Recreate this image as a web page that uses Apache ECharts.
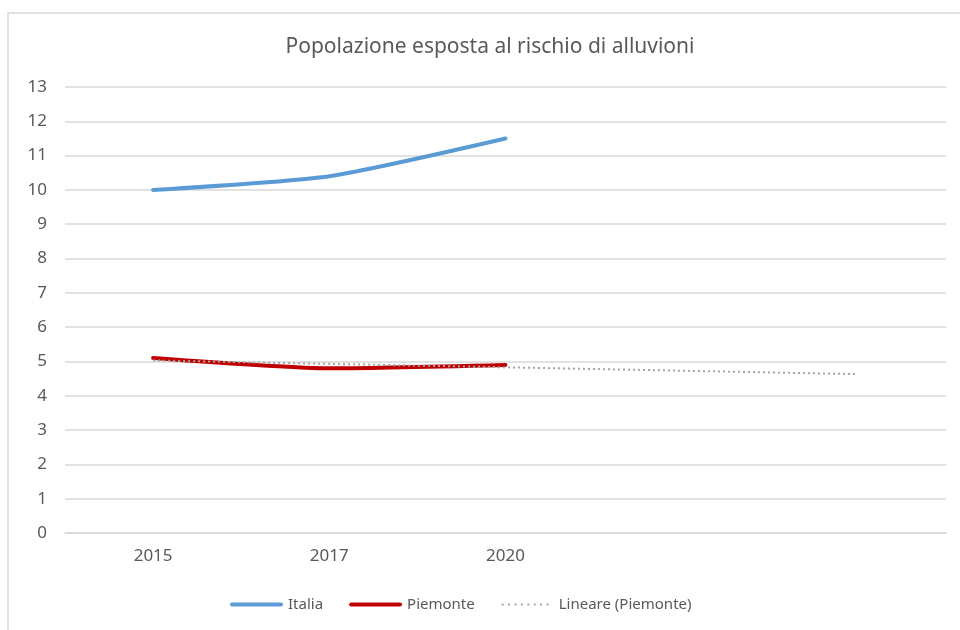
<!DOCTYPE html>
<html>
<head>
<meta charset="utf-8">
<script src="https://cdn.jsdelivr.net/npm/echarts@6/dist/echarts.min.js"></script>
<style>html,body{margin:0;padding:0;background:#fff}#c{width:960px;height:630px}</style>
</head>
<body>
<div id="c"></div>
<script>
const categories = ['2015', '2017', '2020', '', ''];
const italia = [10.0, 10.4, 11.5];
const piemonte = [5.1, 4.8, 4.9];
const lineare = [5.03, 4.93, 4.83, 4.73, 4.63];
const yTicks = [0, 13, 1];

const FONT = 'Noto Sans';
const solidIcon = 'path://M2,0H51A2,2,0,0,1,51,4H2A2,2,0,0,1,2,0Z';
let dots = '';
for (let i = 0; i < 8; i++) { const x = 1 + i * 6.4; dots += 'M' + x.toFixed(1) + ',1h2v2h-2z'; }
const dottedIcon = 'path://M0,0h0.01v0.01h-0.01z' + dots + 'M53,3.99h0.01v0.01h-0.01z';

const chart = echarts.init(document.getElementById('c'), null, {renderer: 'canvas'});
chart.setOption({
  backgroundColor: '#fff',
  animation: false,
  textStyle: {fontFamily: FONT},
  graphic: [{
    type: 'rect', shape: {x: 8, y: 13, width: 970, height: 640},
    style: {fill: 'none', stroke: '#D9D9D9', lineWidth: 1.5}, silent: true, z: -10
  }],
  title: {
    text: 'Popolazione esposta al rischio di alluvioni',
    left: 485, textAlign: 'center', top: 32,
    textStyle: {fontFamily: FONT, fontSize: 21, fontWeight: 'normal', color: '#595959'}
  },
  legend: {
    bottom: 13, left: 225,
    itemWidth: 53, itemHeight: 4, itemGap: 26,
    textStyle: {fontFamily: FONT, fontSize: 15, color: '#595959'},
    data: [
      {name: 'Italia', icon: solidIcon, itemStyle: {color: '#5B9BD5'}},
      {name: 'Piemonte', icon: solidIcon, itemStyle: {color: '#C00000'}},
      {name: 'Lineare (Piemonte)', icon: dottedIcon, itemStyle: {color: '#A5A5A5'}}
    ]
  },
  grid: {left: 65, right: 14, top: 87, bottom: 97, containLabel: false},
  xAxis: {
    type: 'category', data: categories, boundaryGap: true,
    axisLine: {show: true, lineStyle: {color: '#D9D9D9', width: 1.5}},
    axisTick: {show: false},
    axisLabel: {color: '#595959', fontSize: 17, fontFamily: FONT, margin: 15}
  },
  yAxis: {
    type: 'value', min: yTicks[0], max: yTicks[1], interval: yTicks[2],
    axisLine: {show: false}, axisTick: {show: false},
    splitLine: {lineStyle: {color: '#D9D9D9', width: 1.5}},
    axisLabel: {color: '#595959', fontSize: 17, fontFamily: FONT, margin: 18}
  },
  series: [
    {name: 'Italia', type: 'line', data: italia, smooth: 0.2, symbol: 'none',
     lineStyle: {color: '#5B9BD5', width: 4, cap: 'round'}, itemStyle: {color: '#5B9BD5'}, z: 3},
    {name: 'Piemonte', type: 'line', data: piemonte, smooth: 0.2, symbol: 'none',
     lineStyle: {color: '#C00000', width: 4, cap: 'round'}, itemStyle: {color: '#C00000'}, z: 3},
    {name: 'Lineare (Piemonte)', type: 'line', data: lineare, symbol: 'none',
     lineStyle: {color: '#A5A5A5', width: 2, type: [2, 3]}, itemStyle: {color: '#A5A5A5'}, z: 4}
  ]
});
</script>
</body>
</html>
